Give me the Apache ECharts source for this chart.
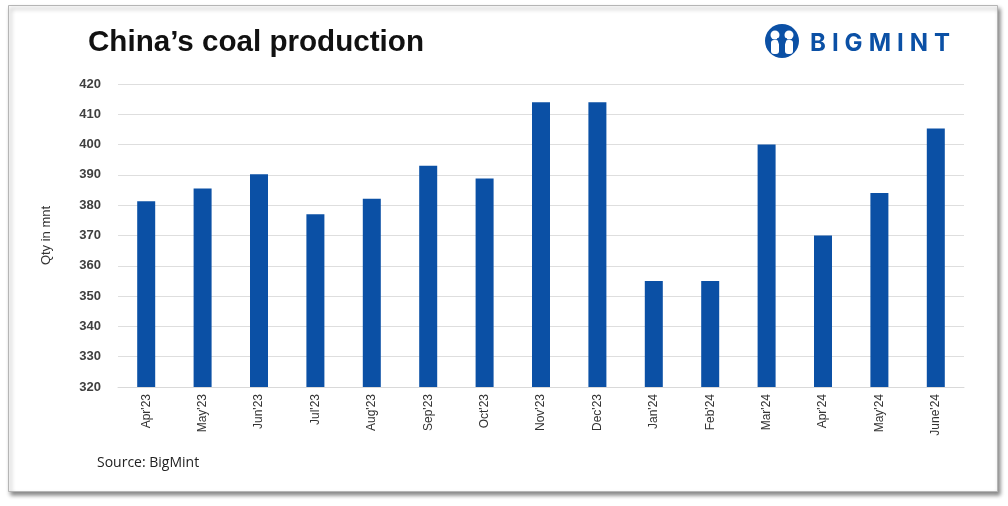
<!DOCTYPE html>
<html>
<head>
<meta charset="utf-8">
<script src="https://cdn.jsdelivr.net/npm/echarts@6/dist/echarts.min.js"></script>
<style>
  html, body { margin: 0; padding: 0; background: #ffffff; }
  #main { width: 1008px; height: 506px; }
</style>
</head>
<body>
<div id="main"></div>
<script>
// months shown on the x axis
var months = ["Apr'23", "May'23", "Jun'23", "Jul'23", "Aug'23", "Sep'23", "Oct'23", "Nov'23",
  "Dec'23", "Jan'24", "Feb'24", "Mar'24", "Apr'24", "May'24", "June'24"];
// coal output, million tonnes
var production = [381.3, 385.5, 390.2, 377, 382.1, 393, 388.8, 414, 414, 355, 355, 400, 370, 384, 405.3];
var yTicks = [320, 330, 340, 350, 360, 370, 380, 390, 400, 410, 420];

var blue = '#0b50a5';
var chart = echarts.init(document.getElementById('main'));

chart.setOption({
  backgroundColor: '#ffffff',
  animation: false,
  graphic: [
    // card frame with shadow
    {
      type: 'rect', left: 8, top: 5, z: -10,
      shape: { width: 989, height: 486 },
      style: { fill: '#fff', stroke: '#b5b5b5', lineWidth: 1,
        shadowBlur: 4, shadowOffsetX: 2, shadowOffsetY: 3, shadowColor: 'rgba(0,0,0,0.45)' }
    },
    {
      type: 'text', left: 88, top: 28,
      style: { text: 'China\u2019s coal production', fill: '#111', fontSize: 29.6,
        fontWeight: 'bold', fontFamily: 'Liberation Sans' }
    },
    {
      type: 'text', left: 97, top: 456,
      style: { text: 'Source: BigMint', fill: '#222', fontSize: 14, fontFamily: 'Open Sans' }
    },
    // BIGMINT logo
    {
      type: 'group', left: 765, top: 24,
      children: [
        { type: 'circle', shape: { cx: 18, cy: 17, r: 17 }, style: { fill: blue } },
        { type: 'circle', shape: { cx: 11, cy: 11, r: 4.5 }, style: { fill: '#fff' } },
        { type: 'circle', shape: { cx: 25, cy: 11, r: 4.5 }, style: { fill: '#fff' } },
        { type: 'rect', shape: { x: 7, y: 16, width: 8, height: 14, r: 3 }, style: { fill: '#fff' } },
        { type: 'rect', shape: { x: 21, y: 16, width: 8, height: 14, r: 3 }, style: { fill: '#fff' } },
        { type: 'polygon', shape: { points: [[13, 14], [23, 14], [18, 30]] }, style: { fill: blue } }
      ]
    },
    {
      type: 'text', left: 810, top: 32,
      style: { text: 'B\u2005I\u2005G\u2005M\u2005I\u2005N\u2005T', fill: blue, fontSize: 24, fontWeight: 'bold',
        fontFamily: 'Inter' }
    }
  ],
  grid: { left: 118, right: 44, top: 84, bottom: 119 },
  xAxis: {
    type: 'category',
    data: months,
    axisLine: { lineStyle: { color: '#d9d9d9', width: 1 } },
    axisTick: { show: false },
    axisLabel: { rotate: 90, margin: 7, color: '#333', fontSize: 12, fontFamily: 'Liberation Sans', interval: 0 }
  },
  yAxis: {
    type: 'value',
    min: yTicks[0],
    max: yTicks[yTicks.length - 1],
    interval: 10,
    name: 'Qty in mnt',
    nameLocation: 'middle',
    nameGap: 65,
    nameRotate: 90,
    nameTextStyle: { color: '#333', fontSize: 13, fontFamily: 'Liberation Sans' },
    axisLine: { show: false },
    axisTick: { show: false },
    axisLabel: { margin: 17, color: '#404040', fontSize: 13, fontWeight: 'bold', fontFamily: 'Liberation Sans' },
    splitLine: { lineStyle: { color: '#dedede', width: 1 } }
  },
  series: [
    {
      type: 'bar',
      data: production,
      barWidth: 18,
      itemStyle: { color: blue }
    }
  ]
});
</script>
</body>
</html>
